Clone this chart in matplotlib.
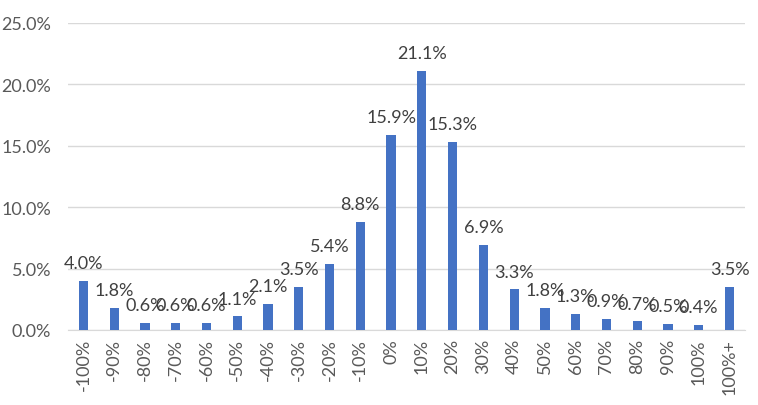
import numpy as np
import matplotlib.pyplot as plt

# distribution of returns
bins = ['-100%', '-90%', '-80%', '-70%', '-60%', '-50%', '-40%', '-30%', '-20%', '-10%',
        '0%', '10%', '20%', '30%', '40%', '50%', '60%', '70%', '80%', '90%', '100%', '100%+']
share = [4.0, 1.8, 0.6, 0.6, 0.6, 1.1, 2.1, 3.5, 5.4, 8.8,
         15.9, 21.1, 15.3, 6.9, 3.3, 1.8, 1.3, 0.9, 0.7, 0.5, 0.4, 3.5]

plt.rcParams['font.family'] = ['Lato', 'DejaVu Sans']

fig = plt.figure(figsize=(7.58, 4.06), dpi=100)
ax = fig.add_axes([0.0897, 0.185, 0.893, 0.756])

x = np.arange(len(bins))
bars = ax.bar(x, share, width=0.3, color='#4472C4', zorder=3)

for xi, v in zip(x, share):
    ax.annotate(f'{v:.1f}%', (xi, v), xytext=(0, 7), textcoords='offset points',
                ha='center', va='bottom', fontsize=13, color='#404040')

ax.set_ylim(0, 25)
ax.set_xlim(-0.5, len(bins) - 0.5)
ax.set_yticks(np.arange(0, 26, 5))
ax.set_yticklabels([f'{t:.1f}%' for t in np.arange(0, 26, 5)])
ax.set_xticks(x)
ax.set_xticklabels(bins, rotation=90)
ax.tick_params(axis='both', length=0, labelsize=13, colors='#595959')
ax.tick_params(axis='y', pad=12)
ax.tick_params(axis='x', pad=6)
ax.grid(axis='y', color='#d9d9d9', linewidth=1, zorder=0)
for s in ['top', 'right', 'left']:
    ax.spines[s].set_visible(False)
ax.spines['bottom'].set_color('#d9d9d9')

fig.savefig('out.png', dpi=100)
